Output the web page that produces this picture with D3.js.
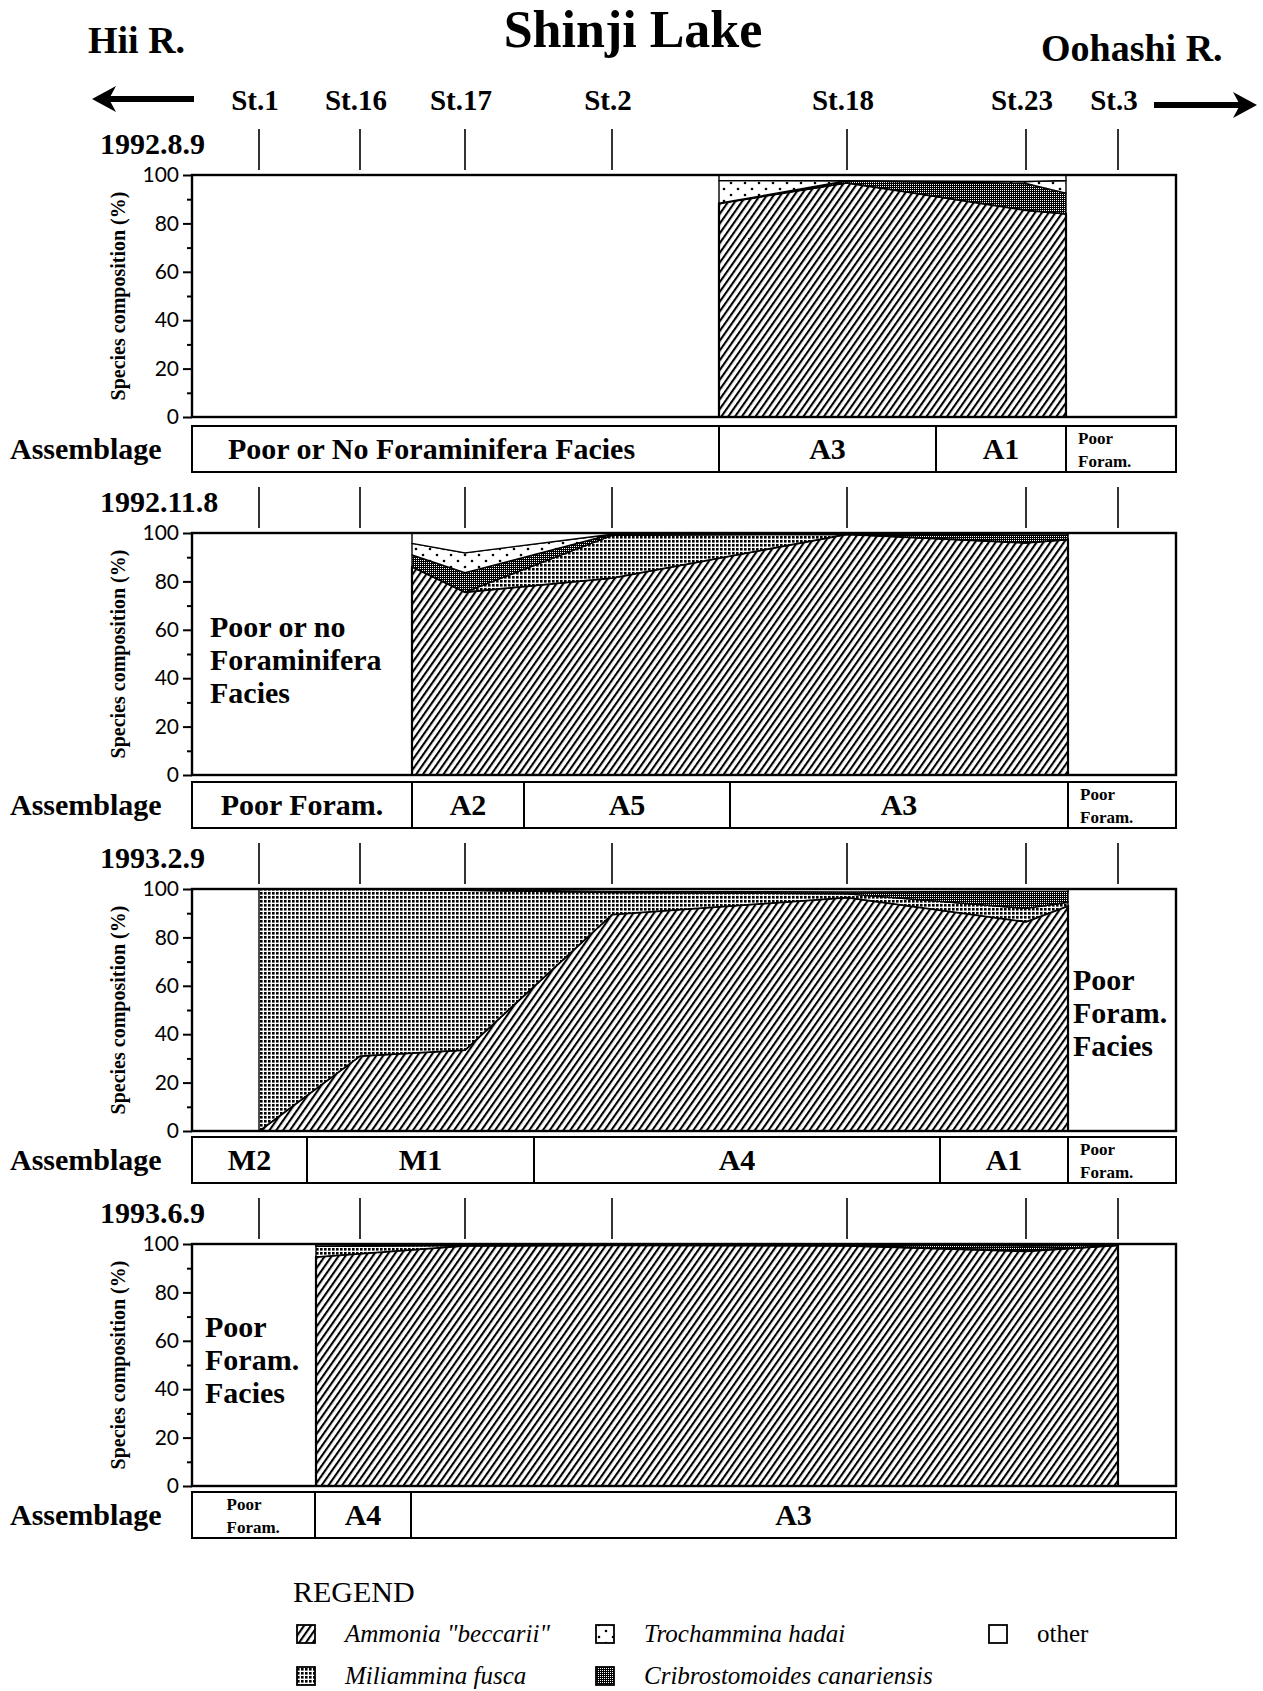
<!DOCTYPE html>
<html>
<head>
<meta charset="utf-8">
<script src="https://cdn.jsdelivr.net/npm/d3@7"></script>
<style>
  body { margin: 0; background: #fff; }
  svg { display: block; }
</style>
</head>
<body>
<svg id="stage" width="1263" height="1691"></svg>
<script>
// stations along the lake transect (distance units)
var stations = ["St.1", "St.16", "St.17", "St.2", "St.18", "St.23", "St.3"];
var stationPos = [67, 168, 273, 420, 655, 834, 926];

var dates = ["1992.8.9", "1992.11.8", "1993.2.9", "1993.6.9"];
var keys = ["ammonia", "miliammina", "cribro", "trochammina", "other"];
var yTicks = [0, 20, 40, 60, 80, 100];
var yMinor = [10, 30, 50, 70, 90];

// 1992.8.9
var p1Pos = [527, 655, 834, 874];
var p1Ammonia = [88.3, 96.8, 85.5, 84];
var p1Miliammina = [0, 0, 0, 0];
var p1Cribro = [0, 0.8, 11, 8.5];
var p1Trochammina = [9.4, 0, 0.8, 5.2];

// 1992.11.8
var p2Pos = [220, 273, 420, 655, 834, 876];
var p2Ammonia = [86.1, 75.6, 81.4, 99.5, 96, 97.4];
var p2Miliammina = [0, 0, 17.6, 0, 0, 0];
var p2Cribro = [4.8, 8, 0.5, 0.2, 3.2, 1.9];
var p2Trochammina = [4.8, 8.2, 0, 0, 0, 0];

// 1993.2.9
var p3Pos = [67, 168, 273, 420, 655, 834, 876];
var p3Ammonia = [0, 31, 33.5, 89.5, 96.5, 86.5, 93];
var p3Miliammina = [100, 69, 66, 9, 1.5, 5.5, 1.5];
var p3Cribro = [0, 0, 0.2, 0.5, 0.8, 7, 4.5];
var p3Trochammina = [0, 0, 0, 0, 0, 0, 0];

// 1993.6.9
var p4Pos = [124, 273, 420, 655, 834, 926];
var p4Ammonia = [94.7, 99.3, 99.5, 99.3, 97, 99.5];
var p4Miliammina = [4.5, 0.2, 0.2, 0.2, 0.3, 0];
var p4Cribro = [0, 0, 0, 0.2, 2, 0.2];
var p4Trochammina = [0, 0, 0, 0, 0, 0];

// assemblage boxes (distance units)
var asm1Bounds = [0, 527, 744, 874, 984];
var asm1Labels = ["Poor or No Foraminifera Facies", "A3", "A1", "Poor|Foram."];
var asm2Bounds = [0, 220, 332, 538, 876, 984];
var asm2Labels = ["Poor Foram.", "A2", "A5", "A3", "Poor|Foram."];
var asm3Bounds = [0, 115, 342, 748, 876, 984];
var asm3Labels = ["M2", "M1", "A4", "A1", "Poor|Foram."];
var asm4Bounds = [0, 123, 219, 984];
var asm4Labels = ["Poor|Foram.", "A4", "A3"];

var faciesNotes = [null, ["Poor or no", "Foraminifera", "Facies"],
  ["Poor", "Foram.", "Facies"], ["Poor", "Foram.", "Facies"]];

var legendNames = ['Ammonia "beccarii"', "Miliammina fusca", "Trochammina hadai",
  "Cribrostomoides canariensis", "other"];
var legendKeys = ["ammonia", "miliammina", "trochammina", "cribro", "other"];

var serif = "'Liberation Serif', 'Times New Roman', serif";
var svg = d3.select("#stage");

// fill patterns
var defs = svg.append("defs");
var pa = defs.append("pattern").attr("id", "pat-ammonia").attr("patternUnits", "userSpaceOnUse")
  .attr("width", 5.6).attr("height", 10).attr("patternTransform", "rotate(35)");
pa.append("rect").attr("width", 5.6).attr("height", 10).attr("fill", "#fff");
pa.append("line").attr("x1", 1).attr("y1", 0).attr("x2", 1).attr("y2", 10)
  .attr("stroke", "#000").attr("stroke-width", 2.2);

var pm = defs.append("pattern").attr("id", "pat-miliammina").attr("patternUnits", "userSpaceOnUse")
  .attr("width", 4).attr("height", 4);
pm.append("rect").attr("width", 4).attr("height", 4).attr("fill", "#fff");
pm.append("rect").attr("width", 2.6).attr("height", 2.6).attr("fill", "#000");

var pt = defs.append("pattern").attr("id", "pat-trochammina").attr("patternUnits", "userSpaceOnUse")
  .attr("width", 14).attr("height", 12);
pt.append("rect").attr("width", 14).attr("height", 12).attr("fill", "#fff");
pt.append("circle").attr("cx", 3).attr("cy", 3).attr("r", 1.3).attr("fill", "#000");
pt.append("circle").attr("cx", 10).attr("cy", 9).attr("r", 1.3).attr("fill", "#000");

var pc = defs.append("pattern").attr("id", "pat-cribro").attr("patternUnits", "userSpaceOnUse")
  .attr("width", 2).attr("height", 2);
pc.append("rect").attr("width", 2).attr("height", 2).attr("fill", "#000");
pc.append("rect").attr("width", 1).attr("height", 1).attr("fill", "#fff");

var fills = {ammonia: "url(#pat-ammonia)", miliammina: "url(#pat-miliammina)",
  trochammina: "url(#pat-trochammina)", cribro: "url(#pat-cribro)", other: "#fff"};

// header
svg.append("text").attr("x", 633).attr("y", 47).attr("text-anchor", "middle")
  .attr("font-family", serif).attr("font-weight", "bold").attr("font-size", 52)
  .text("Shinji Lake");
svg.append("text").attr("x", 88).attr("y", 53)
  .attr("font-family", serif).attr("font-weight", "bold").attr("font-size", 38)
  .text("Hii R.");
svg.append("text").attr("x", 1041).attr("y", 61)
  .attr("font-family", serif).attr("font-weight", "bold").attr("font-size", 38)
  .text("Oohashi R.");

function arrow(x1, x2, y) {
  var dir = x2 > x1 ? 1 : -1;
  svg.append("line").attr("x1", x1).attr("y1", y).attr("x2", x2 - dir * 16).attr("y2", y)
    .attr("stroke", "#000").attr("stroke-width", 6);
  svg.append("path").attr("d", "M" + x2 + "," + y + "L" + (x2 - dir * 24) + "," + (y - 13) +
    "L" + (x2 - dir * 17) + "," + y + "L" + (x2 - dir * 24) + "," + (y + 13) + "Z").attr("fill", "#000");
}
arrow(194, 92, 99);
arrow(1154, 1257, 105);

var x = d3.scaleLinear().domain([0, 984]).range([192, 1176]);

svg.selectAll("text.station").data(stations).enter().append("text")
  .attr("class", "station")
  .attr("x", function(d, i) { return x(stationPos[i]) - 4; })
  .attr("y", 110).attr("text-anchor", "middle")
  .attr("font-family", serif).attr("font-weight", "bold").attr("font-size", 29)
  .text(function(d) { return d; });

var panels = [
  {pos: p1Pos, a: p1Ammonia, m: p1Miliammina, c: p1Cribro, t: p1Trochammina, bounds: asm1Bounds, labels: asm1Labels},
  {pos: p2Pos, a: p2Ammonia, m: p2Miliammina, c: p2Cribro, t: p2Trochammina, bounds: asm2Bounds, labels: asm2Labels},
  {pos: p3Pos, a: p3Ammonia, m: p3Miliammina, c: p3Cribro, t: p3Trochammina, bounds: asm3Bounds, labels: asm3Labels},
  {pos: p4Pos, a: p4Ammonia, m: p4Miliammina, c: p4Cribro, t: p4Trochammina, bounds: asm4Bounds, labels: asm4Labels}
];
var panelTops = [175, 533, 889, 1244];
var panelH = 242;
var boxTops = [426, 782, 1137, 1492];
var boxH = 46;

var stack = d3.stack().keys(keys);

panels.forEach(function(p, k) {
  var top = panelTops[k];
  var y = d3.scaleLinear().domain([0, 100]).range([top + panelH, top]);
  var g = svg.append("g");

  // date + station ticks
  g.append("text").attr("x", 100).attr("y", top - 21)
    .attr("font-family", serif).attr("font-weight", "bold").attr("font-size", 30)
    .text(dates[k]);
  g.selectAll("line.st").data(stationPos).enter().append("line")
    .attr("x1", function(d) { return x(d); }).attr("x2", function(d) { return x(d); })
    .attr("y1", top - 46).attr("y2", top - 5)
    .attr("stroke", "#000").attr("stroke-width", 1.6);

  // stacked composition
  var rows = p.pos.map(function(d, i) {
    var sum = p.a[i] + p.m[i] + p.c[i] + p.t[i];
    return {pos: d, ammonia: p.a[i], miliammina: p.m[i], cribro: p.c[i],
      trochammina: p.t[i], other: Math.max(0, 100 - sum)};
  });
  var area = d3.area()
    .x(function(d) { return x(d.data.pos); })
    .y0(function(d) { return y(d[0]); })
    .y1(function(d) { return y(d[1]); });
  g.selectAll("path.layer").data(stack(rows)).enter().append("path")
    .attr("class", "layer")
    .attr("d", area)
    .attr("fill", function(d) { return fills[d.key]; })
    .attr("stroke", "#000")
    .attr("stroke-width", function(d) { return d.key == "ammonia" ? 2.2 : 1.4; })
    .attr("stroke-linejoin", "round");

  // frame and axis
  g.append("rect").attr("x", x(0)).attr("y", top).attr("width", x(984) - x(0)).attr("height", panelH)
    .attr("fill", "none").attr("stroke", "#000").attr("stroke-width", 2.4);
  var ax = g.append("g").attr("transform", "translate(" + x(0) + ",0)")
    .call(d3.axisLeft(y).tickValues(yTicks).tickSize(9).tickPadding(4));
  ax.select(".domain").remove();
  ax.selectAll("line").attr("stroke-width", 2);
  ax.selectAll("text").attr("font-family", "Lato, 'DejaVu Sans', sans-serif").attr("font-size", 21).attr("fill", "#000");
  var mx = g.append("g").attr("transform", "translate(" + x(0) + ",0)")
    .call(d3.axisLeft(y).tickValues(yMinor).tickSize(5).tickFormat(""));
  mx.select(".domain").remove();
  mx.selectAll("line").attr("stroke-width", 2);

  g.append("text")
    .attr("transform", "translate(125," + (top + panelH / 2) + ") rotate(-90)")
    .attr("text-anchor", "middle")
    .attr("font-family", serif).attr("font-weight", "bold").attr("font-size", 20)
    .text("Species composition (%)");

  // facies notes inside the plot
  var note = faciesNotes[k];
  if (note) {
    var nx = k == 2 ? 1073 : (k == 1 ? 210 : 205);
    var ny = k == 1 ? top + 104 : (k == 2 ? top + 101 : top + 93);
    note.forEach(function(s, i) {
      g.append("text").attr("x", nx).attr("y", ny + i * 33)
        .attr("font-family", serif).attr("font-weight", "bold").attr("font-size", 30)
        .text(s);
    });
  }

  // assemblage row
  var bt = boxTops[k];
  g.append("text").attr("x", 10).attr("y", bt + 33)
    .attr("font-family", serif).attr("font-weight", "bold").attr("font-size", 30)
    .text("Assemblage");
  p.labels.forEach(function(lab, i) {
    var x0 = x(p.bounds[i]), x1 = x(p.bounds[i + 1]);
    g.append("rect").attr("x", x0).attr("y", bt).attr("width", x1 - x0).attr("height", boxH)
      .attr("fill", "#fff").attr("stroke", "#000").attr("stroke-width", 2);
    if (lab.indexOf("|") >= 0) {
      var parts = lab.split("|");
      var lx = i == 0 ? (x0 + x1) / 2 - 27 : x0 + 12;
      parts.forEach(function(s, j) {
        g.append("text").attr("x", lx).attr("y", bt + 18 + j * 23)
          .attr("font-family", serif).attr("font-weight", "bold").attr("font-size", 17)
          .text(s);
      });
    } else if (lab.length > 20) {
      g.append("text").attr("x", x0 + 36).attr("y", bt + 33)
        .attr("font-family", serif).attr("font-weight", "bold").attr("font-size", 30)
        .text(lab);
    } else {
      g.append("text").attr("x", (x0 + x1) / 2).attr("y", bt + 33).attr("text-anchor", "middle")
        .attr("font-family", serif).attr("font-weight", "bold").attr("font-size", 30)
        .text(lab);
    }
  });
});

// legend
svg.append("text").attr("x", 293).attr("y", 1602)
  .attr("font-family", serif).attr("font-size", 30).text("REGEND");
var legCols = [297, 297, 596, 596, 989];
var legRows = [1634, 1676, 1634, 1676, 1634];
var leg = svg.selectAll("g.leg").data(legendNames).enter().append("g").attr("class", "leg")
  .attr("transform", function(d, i) { return "translate(" + legCols[i] + "," + legRows[i] + ")"; });
leg.append("rect").attr("x", 0).attr("y", -9).attr("width", 18).attr("height", 18)
  .attr("fill", function(d, i) { return fills[legendKeys[i]]; })
  .attr("stroke", "#000").attr("stroke-width", 1.8);
leg.append("text").attr("x", 48).attr("y", 8)
  .attr("font-family", serif).attr("font-size", 25)
  .attr("font-style", function(d, i) { return i == 4 ? "normal" : "italic"; })
  .text(function(d) { return d; });
</script>
</body>
</html>
